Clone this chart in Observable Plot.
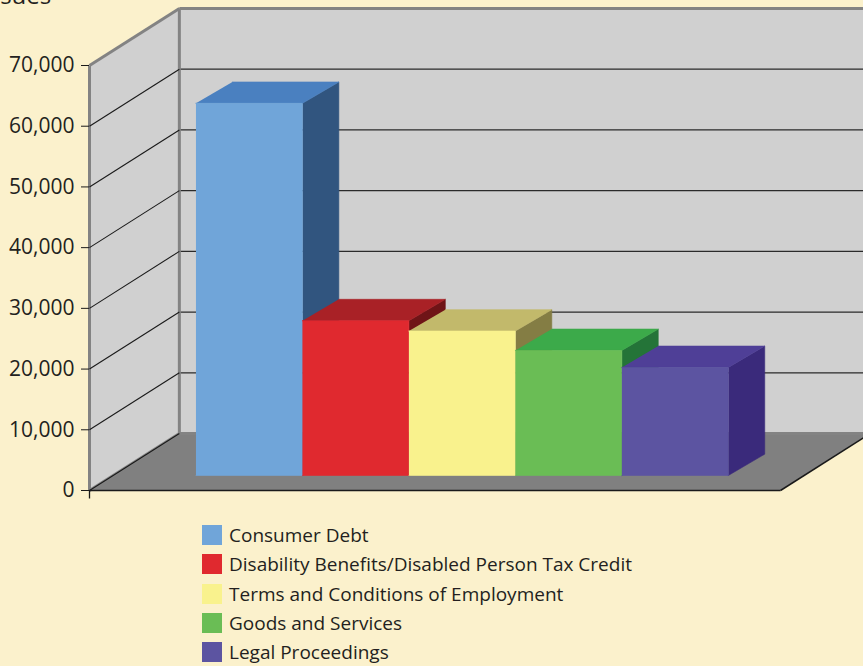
<!DOCTYPE html>
<html>
<head>
<meta charset="utf-8">
<script src="https://cdn.jsdelivr.net/npm/d3@7"></script>
<script src="https://cdn.jsdelivr.net/npm/@observablehq/plot@0.6"></script>
<style>
  html, body { margin: 0; padding: 0; background: #fbf1cc; overflow: hidden; }
  body { position: relative; width: 863px; height: 666px; font-family: "Open Sans", sans-serif; color: #231f20; }
  #title { position: absolute; left: -18px; top: -17px; font-size: 24px; line-height: 24px; white-space: nowrap; }
  #legend { position: absolute; left: 202px; top: 520.5px; }
  .item { display: flex; align-items: center; height: 29.3px; }
  .sw { width: 20px; height: 20px; margin-right: 7px; flex: none; }
  .lab { font-size: 19px; line-height: 20px; position: relative; top: 0px; }
  #chart { position: absolute; left: 0; top: 0; }
</style>
</head>
<body>
<div id="title">Issues</div>
<div id="chart"></div>
<div id="legend"></div>
<script>
// ---- data ----
const categories = [
  "Consumer Debt",
  "Disability Benefits/Disabled Person Tax Credit",
  "Terms and Conditions of Employment",
  "Goods and Services",
  "Legal Proceedings"
];
const values = [61300, 25500, 23800, 20600, 17800];
const frontColors = ["#70a5d9", "#e0292f", "#f9f28d", "#6abd55", "#5c54a1"];
const topColors   = ["#4a80c0", "#a92126", "#c2b96b", "#3caa4a", "#4f3f97"];
const sideColors  = ["#31557f", "#6f1417", "#847d44", "#247438", "#3a2a7b"];
const yTicks = [0, 10000, 20000, 30000, 40000, 50000, 60000, 70000];

// ---- 3D layout (in data units) ----
const X_MAX = 6.49, Y_MAX = 70000;
const WALL = {dx: 0.844, dy: 9390};          // depth of the box
const BAR = {x0: 1, w: 1, base: 2470, ddx: 0.342, ddy: 3520}; // bar placement & depth

// walls & floor polygons
const pts = [];
function poly(id, fill, corners) {
  corners.forEach(([x, y]) => pts.push({id, fill, x, y}));
}
poly("leftwall", "#d0d0d0", [[0, 0], [0, Y_MAX], [WALL.dx, Y_MAX + WALL.dy], [WALL.dx, WALL.dy]]);
poly("backwall", "#d0d0d0", [[WALL.dx, WALL.dy], [WALL.dx, Y_MAX + WALL.dy], [X_MAX + WALL.dx + 0.3, Y_MAX + WALL.dy], [X_MAX + WALL.dx + 0.3, WALL.dy]]);
poly("floor", "#808080", [[0, 0], [X_MAX, 0], [X_MAX + WALL.dx, WALL.dy], [WALL.dx, WALL.dy]]);

// bars
const barPts = [];
function bpoly(id, fill, corners) {
  corners.forEach(([x, y]) => barPts.push({id, fill, x, y}));
}
values.forEach((v, i) => {
  const x0 = BAR.x0 + i * BAR.w, x1 = x0 + BAR.w;
  const b = BAR.base, t = BAR.base + v;
  bpoly(`side${i}`, sideColors[i], [[x1, b], [x1 + BAR.ddx, b + BAR.ddy], [x1 + BAR.ddx, t + BAR.ddy], [x1, t]]);
  bpoly(`top${i}`, topColors[i], [[x0, t], [x1, t], [x1 + BAR.ddx, t + BAR.ddy], [x0 + BAR.ddx, t + BAR.ddy]]);
  bpoly(`front${i}`, frontColors[i], [[x0, b], [x1, b], [x1, t], [x0, t]]);
});

// grid lines
const inner = yTicks.filter(v => v > 0 && v < Y_MAX);
const backGrid = inner.map(v => ({x1: WALL.dx, y1: v + WALL.dy, x2: X_MAX + WALL.dx + 0.3, y2: v + WALL.dy}));
const sideGrid = yTicks.filter(v => v < Y_MAX).map(v => ({x1: 0, y1: v, x2: WALL.dx, y2: v + WALL.dy}));
const grayEdges = [
  {x1: 0, y1: 0, x2: 0, y2: Y_MAX},
  {x1: 0, y1: Y_MAX, x2: WALL.dx, y2: Y_MAX + WALL.dy},
  {x1: WALL.dx, y1: WALL.dy, x2: WALL.dx, y2: Y_MAX + WALL.dy},
  {x1: WALL.dx, y1: Y_MAX + WALL.dy, x2: X_MAX + WALL.dx + 0.3, y2: Y_MAX + WALL.dy},
  {x1: 0, y1: 0, x2: WALL.dx, y2: WALL.dy},
  {x1: WALL.dx, y1: WALL.dy, x2: X_MAX + WALL.dx + 0.3, y2: WALL.dy}
];
const blackEdges = [
  {x1: 0, y1: 0, x2: X_MAX, y2: 0},
  {x1: X_MAX, y1: 0, x2: X_MAX + WALL.dx, y2: WALL.dy}
];

const chart = Plot.plot({
  width: 863,
  height: 510,
  marginLeft: 89,
  marginRight: 83,
  marginTop: 65,
  marginBottom: 20,
  style: {background: "transparent", fontFamily: "Open Sans", fontSize: "21px", color: "#231f20", overflow: "visible"},
  x: {domain: [0, X_MAX], axis: null},
  y: {domain: [0, Y_MAX]},
  color: {type: "identity"},
  marks: [
    Plot.line(pts, {x: "x", y: "y", z: "id", fill: "fill", stroke: "none"}),
    Plot.link(backGrid, {x1: "x1", y1: "y1", x2: "x2", y2: "y2", stroke: "#2a2a2a", strokeWidth: 1.3}),
    Plot.link(grayEdges, {x1: "x1", y1: "y1", x2: "x2", y2: "y2", stroke: "#838383", strokeWidth: 3}),
    Plot.link(sideGrid, {x1: "x1", y1: "y1", x2: "x2", y2: "y2", stroke: "#1a1a1a", strokeWidth: 1.1}),
    Plot.link(blackEdges, {x1: "x1", y1: "y1", x2: "x2", y2: "y2", stroke: "#1a1a1a", strokeWidth: 1.5}),
    Plot.ruleX([0], {y1: 0, y2: -1400, stroke: "#1a1a1a", strokeWidth: 1.3}),
    Plot.line(barPts, {x: "x", y: "y", z: "id", fill: "fill", stroke: "fill", strokeWidth: 0.6}),
    Plot.axisY({ticks: yTicks, tickFormat: d3.format(","), tickSize: 8, tickPadding: 7, fontSize: 21, fontFamily: "Open Sans", stroke: "#1a1a1a", fill: "#231f20", label: null})
  ]
});
document.getElementById("chart").appendChild(chart);

// legend
const legend = document.getElementById("legend");
categories.forEach((c, i) => {
  const row = document.createElement("div");
  row.className = "item";
  const sw = document.createElement("div");
  sw.className = "sw";
  sw.style.background = frontColors[i];
  const lab = document.createElement("span");
  lab.className = "lab";
  lab.textContent = c;
  row.appendChild(sw);
  row.appendChild(lab);
  legend.appendChild(row);
});
</script>
</body>
</html>
